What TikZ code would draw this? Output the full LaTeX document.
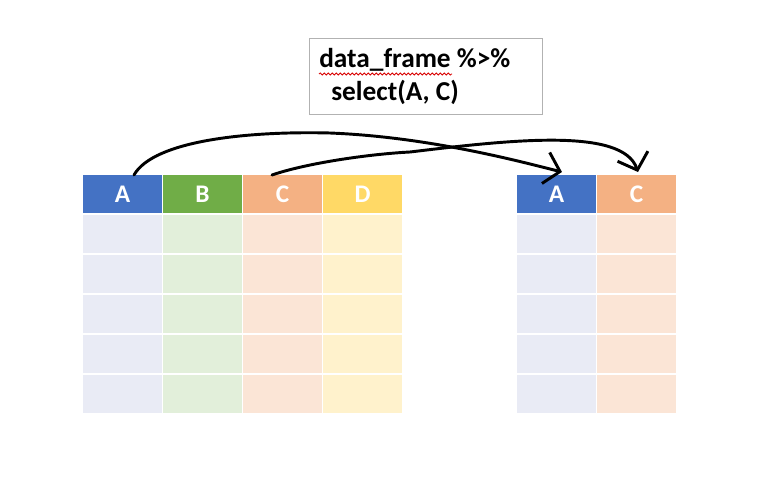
\documentclass[tikz,border=0pt]{standalone}
\usepackage{fontspec}
\setmainfont{Carlito}
\usetikzlibrary{positioning,arrows.meta,decorations.pathmorphing}
\definecolor{hA}{HTML}{4472C4}
\definecolor{hB}{HTML}{70AD47}
\definecolor{hC}{HTML}{F4B183}
\definecolor{hD}{HTML}{FFD966}
\definecolor{lA}{HTML}{E9EBF5}
\definecolor{lB}{HTML}{E2EFDA}
\definecolor{lC}{HTML}{FBE5D6}
\definecolor{lD}{HTML}{FFF2CC}
\begin{document}
\begin{tikzpicture}[x=0.75pt,y=-0.75pt,
  cell/.style={minimum width=59.25pt,minimum height=28.5pt,
  inner sep=0pt,outer sep=0pt},
  head cell/.style={cell,text=white,font=\fontsize{19}{21}\selectfont\bfseries},
  body cell/.style={cell},
  hand arrow/.style={-{Straight Barb[length=11pt,width=24pt]},
  line width=2.2pt,line cap=round,line join=round}]

  \useasboundingbox[fill=white] (0,0) rectangle (777,492);

  % code box
  \node[draw=gray!60,minimum width=174.75pt,minimum height=57pt,
    inner sep=0pt] (box) at (425.5,76) {};
  \node[anchor=base west,inner sep=0pt,font=\fontsize{20.5}{24}\selectfont\bfseries]
    (code1) at (319,68) {data\_frame \%>\%};
  \node[anchor=base west,inner sep=0pt,font=\fontsize{20.5}{24}\selectfont\bfseries]
    (code2) at (331,100) {select(A, C)};
  \draw[red!85!black,line width=0.6pt,decorate,
    decoration={snake,amplitude=0.8pt,segment length=3pt}]
    (319,74) -- (452,74);

  % left table
  \node[head cell,fill=hA] (hA) at (122.5,194) {A};
  \node[head cell,fill=hB] (hB) [right=0.75pt of hA] {B};
  \node[head cell,fill=hC] (hC) [right=0.75pt of hB] {C};
  \node[head cell,fill=hD] (hD) [right=0.75pt of hC] {D};
  \foreach \c in {A,B,C,D} {
    \node[body cell,fill=l\c] (\c1) [below=1.5pt of h\c] {};
    \foreach \r [count=\p] in {2,...,5}
      \node[body cell,fill=l\c] (\c\r) [below=1.5pt of \c\p] {};
  }

  % right table
  \node[head cell,fill=hA] (rA) at (556.5,194) {A};
  \node[head cell,fill=hC] (rC) [right=0.75pt of rA] {C};
  \foreach \c in {A,C} {
    \node[body cell,fill=l\c] (r\c1) [below=1.5pt of r\c] {};
    \foreach \r [count=\p] in {2,...,5}
      \node[body cell,fill=l\c] (r\c\r) [below=1.5pt of r\c\p] {};
  }

  % hand drawn arrows
  \draw[hand arrow] ([xshift=8.6pt]hA.north)
    .. controls +(20,-35) and +(-80,-2) .. (330,133)
    .. controls +(100,4) and +(-40,-10) .. ([xshift=4.1pt,yshift=2.25pt]rA.north);
  \draw[hand arrow] ([xshift=-7.9pt]hC.north)
    .. controls +(35,-12) and +(-40,2) .. (410,152)
    .. controls +(100,-12) and +(-15,-45) .. ([xshift=1.1pt,yshift=2.25pt]rC.north);
\end{tikzpicture}
\end{document}
